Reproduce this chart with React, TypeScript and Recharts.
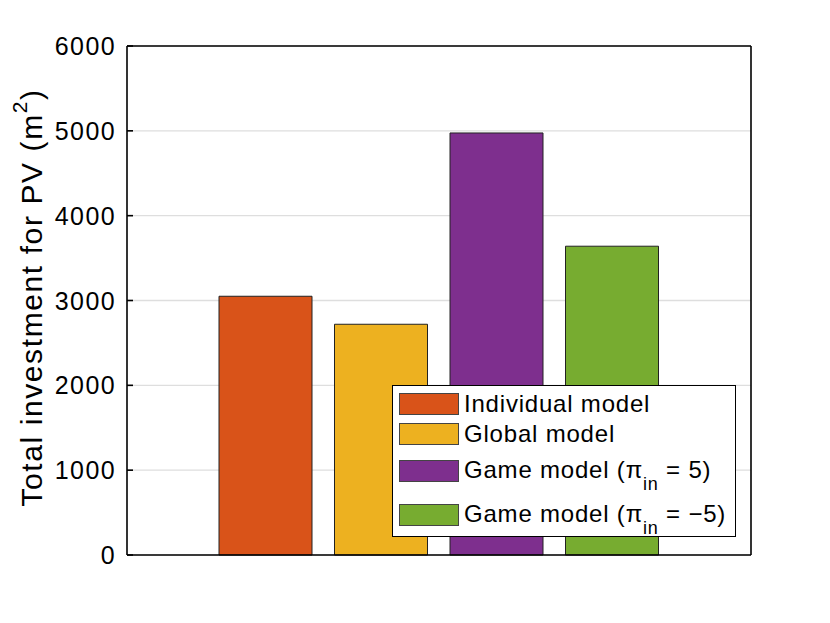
import React from 'react';
import { BarChart, Bar, XAxis, YAxis, CartesianGrid } from 'recharts';

const categories = ['PV'];
const seriesNames = ['Individual model', 'Global model', 'Game model (π_in = 5)', 'Game model (π_in = −5)'];
const seriesKeys = ['individual', 'global', 'game5', 'gameNeg5'];
const seriesValues = [3050, 2720, 4975, 3640];
const seriesColors = ['#D95319', '#EDB120', '#7E2F8E', '#77AC30'];
const yTicks = [0, 1000, 2000, 3000, 4000, 5000, 6000];

const data = categories.map((c) => {
  const row: Record<string, any> = { name: c };
  seriesKeys.forEach((k, i) => (row[k] = seriesValues[i]));
  return row;
});

const FONT = '"Liberation Sans", Arial, Helvetica, sans-serif';
const TICK_GAP = 11;

const renderLabel = (title: string, sup: string) => (props: any) => {
  const vb = props.viewBox || {};
  const cx = vb.x - 95;
  const cy = vb.y + vb.height / 2 - 3;
  return (
    <text
      x={cx}
      y={cy}
      transform={`rotate(-90, ${cx}, ${cy})`}
      textAnchor="middle"
      dominantBaseline="central"
      style={{ fontFamily: FONT, fontSize: 30, letterSpacing: 1.6, fill: '#000' }}
    >
      <tspan>{title}</tspan>
      <tspan dy={-12} style={{ fontSize: 21 }}>{sup}</tspan>
      <tspan dy={12}>)</tspan>
    </text>
  );
};

const LeftTick = (props: any) => {
  const { x, y, payload } = props;
  const ax = x + TICK_GAP;
  return (
    <g>
      <line x1={ax} x2={ax + 6} y1={y} y2={y} stroke="#000" strokeWidth={1.6} />
      <text x={x} y={y} textAnchor="end" dominantBaseline="central" style={{ fill: '#000', fontSize: 25, fontFamily: FONT, letterSpacing: 1.4 }}>
        {payload.value}
      </text>
    </g>
  );
};

const legendRowTops = [7, 37, 74, 118];

const LegendBox = () => (
  <div
    style={{
      position: 'absolute',
      left: 392,
      top: 385,
      width: 342,
      height: 150,
      border: '1.5px solid #000',
      background: '#fff',
      fontFamily: FONT,
      fontSize: 24,
      letterSpacing: 0.8,
      color: '#000',
    }}
  >
    {seriesNames.map((n, i) => {
      const parts = n.split('π_in');
      return (
        <div key={n} style={{ position: 'absolute', left: 6, top: legendRowTops[i], height: 22, display: 'flex', alignItems: 'center', whiteSpace: 'nowrap' }}>
          <div style={{ width: 58, height: 20, background: seriesColors[i], border: '1px solid #444', marginRight: 5 }} />
          <span style={{ lineHeight: '22px' }}>
            {parts.length > 1 ? (
              <>
                {parts[0]}π<sub style={{ fontSize: 18, verticalAlign: -12, lineHeight: 0 }}>in</sub>{parts[1]}
              </>
            ) : (
              n
            )}
          </span>
        </div>
      );
    })}
  </div>
);

export default function App() {
  return (
    <div style={{ position: 'absolute', left: 0, top: 0, width: 830, height: 623, background: '#fff' }}>
      <BarChart
        width={830}
        height={623}
        data={data}
        margin={{ top: 45, right: 78, bottom: 67, left: 126 }}
        barGap={22.5}
        barCategoryGap={0}
      >
        <CartesianGrid vertical={false} stroke="#dedede" strokeWidth={1.3} />
        <XAxis dataKey="name" tick={false} tickLine={false} axisLine={{ stroke: '#000', strokeWidth: 1.6 }} height={1} />
        <XAxis xAxisId="top" orientation="top" dataKey="name" tick={false} tickLine={false} axisLine={{ stroke: '#000', strokeWidth: 1.6 }} height={1} />
        <YAxis
          domain={[0, 6000]}
          ticks={yTicks}
          interval={0}
          width={1}
          tickSize={0}
          tickMargin={TICK_GAP}
          tickLine={false}
          axisLine={{ stroke: '#000', strokeWidth: 1.6 }}
          tick={<LeftTick />}
          label={{ content: renderLabel('Total investment for PV (m', '2') as any }}
        />
        <YAxis
          yAxisId="right"
          orientation="right"
          domain={[0, 6000]}
          ticks={yTicks}
          interval={0}
          width={1}
          tickSize={-7}
          tick={false}
          tickLine={{ stroke: '#000', strokeWidth: 1.6 }}
          axisLine={{ stroke: '#000', strokeWidth: 1.6 }}
        />
        {seriesKeys.map((k, i) => (
          <Bar key={k} dataKey={k} name={seriesNames[i]} fill={seriesColors[i]} stroke="#222" strokeWidth={1} barSize={93} isAnimationActive={false} />
        ))}
      </BarChart>
      <LegendBox />
    </div>
  );
}
